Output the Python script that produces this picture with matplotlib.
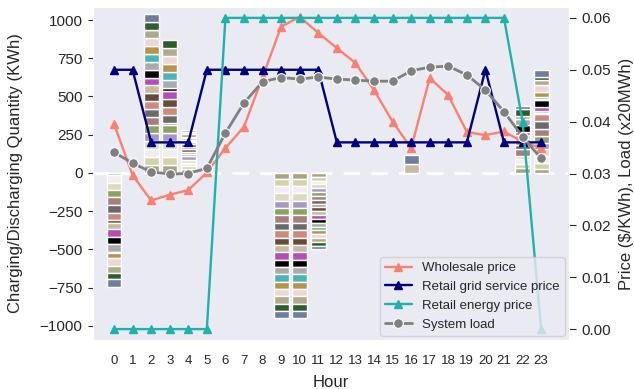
import numpy as np
import matplotlib.pyplot as plt
import seaborn as sns

hours = list(range(24))

# per-EV charging (+) / discharging (-) quantities, EV index 0 sits next to zero
ev_colors = ['#a8a383', '#d5d2a9', '#eeeef3', '#dcdbbf', '#a898c6',
             '#8ba261', '#a97d7d', '#6a6a6a', '#cc8a7f', '#674b36',
             '#c7b8a1', '#b64cb6', '#000000', '#aaaaaa', '#4bb5b5',
             '#b8934c', '#ecd6d8', '#b1ab8d', '#2b5e2b', '#6e7e9c']

ev_qty = {
    0: [-15, 0, -50, -45, 0, -50, -50, -50, -48, -18, -42, -48, -48, -50, -12, -32, -50, -44, -44, -50],
    2: [52] * 20,
    3: [52, 52, 52, 52, 52, 52, 15, 52, 52, 52, 0, 52, 20, 52, 52, 52, 52, 52, 52, 0],
    4: [25, 18, 25, 20, 25, 12, 15, 15, 15, 20, 10, 8, 8, 10, 10, 20, 10, 12, 0, 0],
    9: [-38] + [-48] * 19,
    10: [-38] + [-48] * 19,
    11: [-25] * 20,
    16: [0, 0, 0, 0, 0, 0, 0, 0, 0, 0, 60, 0, 0, 0, 0, 0, 0, 0, 0, 55],
    22: [30, 30, 30, 20, 0, 0, 45, 25, 30, 15, 20, 25, 45, 35, 0, 0, 0, 25, 45, 15],
    23: [25, 40, 45, 45, 40, 48, 45, 50, 45, 12, 10, 25, 48, 8, 12, 30, 50, 27, 22, 48],
}

wholesale = [0.0396, 0.0297, 0.0248, 0.0259, 0.0268, 0.0302, 0.0349, 0.0390,
             0.0486, 0.0583, 0.0602, 0.0571, 0.0542, 0.0513, 0.0461, 0.0400,
             0.0349, 0.0484, 0.0451, 0.0380, 0.0374, 0.0381, 0.0361, 0.0349]
grid_service = [0.050, 0.050, 0.036, 0.036, 0.036, 0.050, 0.050, 0.050,
                0.050, 0.050, 0.050, 0.050, 0.036, 0.036, 0.036, 0.036,
                0.036, 0.036, 0.036, 0.036, 0.050, 0.036, 0.036, 0.036]
energy = [0.0, 0.0, 0.0, 0.0, 0.0, 0.0, 0.06, 0.06, 0.06, 0.06, 0.06, 0.06,
          0.06, 0.06, 0.06, 0.06, 0.06, 0.06, 0.06, 0.06, 0.06, 0.06, 0.040, 0.0]
load = [0.0341, 0.0320, 0.0303, 0.0299, 0.0300, 0.0310, 0.0378, 0.0436,
        0.0477, 0.0485, 0.0482, 0.0486, 0.0482, 0.0480, 0.0478, 0.0478,
        0.0498, 0.0505, 0.0507, 0.0490, 0.0461, 0.0419, 0.0371, 0.0329]

sns.set_style('darkgrid')
plt.rcParams['font.family'] = ['Liberation Sans', 'DejaVu Sans']

fig = plt.figure(figsize=(6.34, 3.89), dpi=100)
ax = fig.add_axes([93 / 634, 1 - 340 / 389, (569 - 93) / 634, (340 - 7) / 389])

for h, vals in ev_qty.items():
    pos, neg = 0.0, 0.0
    for i, v in enumerate(vals):
        if v == 0:
            continue
        if v > 0:
            ax.bar(h, v, bottom=pos, width=0.8, color=ev_colors[i],
                   edgecolor='white', linewidth=1, zorder=2)
            pos += v
        else:
            ax.bar(h, v, bottom=neg, width=0.8, color=ev_colors[i],
                   edgecolor='white', linewidth=1, zorder=2)
            neg += v

ax.axhline(0, color='white', linestyle='--', linewidth=2, dashes=(6, 4), zorder=1)
ax.set_xlim(-1.13, 24.5)
ax.set_ylim(-1092, 1085)
ax.set_yticks([-1000, -750, -500, -250, 0, 250, 500, 750, 1000])
ax.set_xticks(hours)
ax.tick_params(axis='x', labelsize=9.5, pad=7)
ax.tick_params(axis='y', labelsize=11, pad=4)
ax.set_xlabel('Hour', fontsize=12, labelpad=6)
ax.set_ylabel('Charging/Discharging Quantity (KWh)', fontsize=12, labelpad=12)
ax.grid(False)

ax2 = ax.twinx()
ax2.plot(hours, wholesale, color='#fa8072', marker='^', markersize=6,
         linewidth=1.7, label='Wholesale price')
ax2.plot(hours, grid_service, color='#000080', marker='^', markersize=6,
         linewidth=1.7, label='Retail grid service price')
ax2.plot(hours, energy, color='#20b2aa', marker='^', markersize=6,
         linewidth=1.7, label='Retail energy price')
ax2.plot(hours, load, color='gray', marker='o', markersize=7,
         markeredgecolor='white', markeredgewidth=0.8,
         linewidth=2, label='System load')
ax2.set_ylim(-0.0021, 0.0621)
ax2.set_yticks([0.0, 0.01, 0.02, 0.03, 0.04, 0.05, 0.06])
ax2.set_yticklabels(['0.00', '0.01', '0.02', '0.03', '0.04', '0.05', '0.06'])
ax2.tick_params(axis='y', labelsize=11, pad=4, length=5)
ax2.set_ylabel('Price ($/KWh), Load (x20MWh)', fontsize=12, labelpad=6)
ax2.grid(False)
ax2.legend(loc='lower right', fontsize=9.5, borderaxespad=0.3)

fig.savefig('out.png', dpi=100)
